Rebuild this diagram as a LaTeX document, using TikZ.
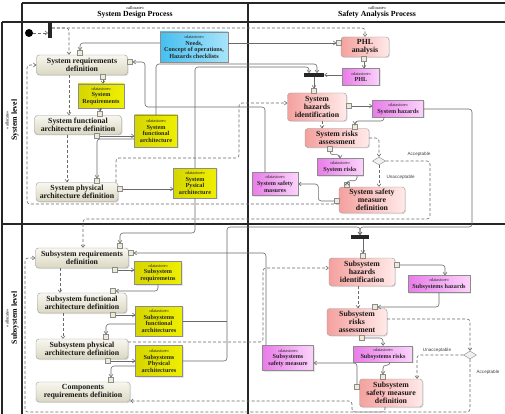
\documentclass[tikz,border=0pt]{standalone}
\usepackage{fontspec}
\setmainfont{Liberation Serif}
\setsansfont{Liberation Sans}
\usetikzlibrary{arrows.meta,shadows,shapes.geometric}
\definecolor{beigeL}{HTML}{F8F7EF}
\definecolor{beigeD}{HTML}{DAD8C2}
\definecolor{pinkD}{HTML}{F4A19E}
\definecolor{pinkL}{HTML}{FFEAE9}
\definecolor{yelD}{HTML}{D6D600}
\definecolor{yelL}{HTML}{EFEF00}
\definecolor{cyanD}{HTML}{45BFF0}
\definecolor{cyanL}{HTML}{A8E4FA}
\definecolor{magD}{HTML}{E97CE9}
\definecolor{magL}{HTML}{FBD3FB}
\definecolor{flowc}{HTML}{6A6A6A}
\definecolor{pinc}{HTML}{EDEBD6}
\newcommand{\dstore}{{\fontsize{4.4}{5}\selectfont\mdseries «datastore»}}
\newcommand{\alloc}{{\fontsize{4.4}{5}\selectfont\mdseries «allocate»}}

\begin{document}
\begin{tikzpicture}[x=1pt,y=-1pt,
  wh/.style 2 args={minimum width=#1pt,minimum height=#2pt},
  actbox/.style={draw=black!40,rounded corners=3pt,align=center,inner sep=0pt,text=black!90,
    font=\fontsize{7.8}{8.2}\selectfont\bfseries,
    drop shadow={opacity=0.25,shadow xshift=1pt,shadow yshift=-1pt}},
  design/.style={actbox,top color=beigeL,bottom color=beigeD},
  safety/.style={actbox,left color=pinkD,right color=pinkL},
  store/.style={draw=black!45,align=center,inner sep=0pt,text=black!85,
    font=\fontsize{6.2}{6.7}\selectfont\bfseries,
    drop shadow={opacity=0.2,shadow xshift=1pt,shadow yshift=-1pt}},
  ystore/.style={store,left color=yelD,right color=yelL},
  cstore/.style={store,left color=cyanD,right color=cyanL},
  mstore/.style={store,left color=magD,right color=magL},
  pinbox/.style={draw=black!45,fill=pinc,minimum size=5pt,inner sep=0pt},
  bar/.style={fill=black!85,inner sep=0pt},
  decision/.style={diamond,draw=black!45,fill=black!6,inner sep=0pt,minimum width=13pt,minimum height=8pt},
  flow/.style={draw=flowc,line width=0.6pt,rounded corners=3pt,-{Straight Barb[length=2.5pt,width=4pt]}},
  ctrl/.style={flow,dash pattern=on 3pt off 2pt},
  lane/.style={line width=1.2pt,black!85},
  guard/.style={font=\sffamily\fontsize{4.6}{5}\selectfont,text=black!75}]
\useasboundingbox (0,0) rectangle (505,414);
% frame and lanes:
\draw[lane] (22,3) -- (506,3);
\draw[lane] (22,3) -- (22,416);
\draw[lane] (2,22) -- (506,22);
\draw[lane] (2,22) -- (2,416);
\draw[lane] (2,224) -- (506,224);
\draw[lane] (248,3) -- (248,416);
\node (hdA) at (135,8) {\alloc};
\node[font=\fontsize{7.8}{8}\selectfont\bfseries] (hdAt) at (135,15) {System Design Process};
\node (hdB) at (377,8) {\alloc};
\node[font=\fontsize{7.8}{8}\selectfont\bfseries] (hdBt) at (377,15) {Safety Analysis Process};
\node[rotate=90] (lvA) at (7,120) {\alloc};
\node[rotate=90,font=\fontsize{7.8}{8}\selectfont\bfseries] (lvAt) at (15,120) {System level};
\node[rotate=90] (lvB) at (7,318) {\alloc};
\node[rotate=90,font=\fontsize{7.8}{8}\selectfont\bfseries] (lvBt) at (15,318) {Subsystem level};
% system level, design:
\node[circle,fill=black,minimum size=8pt,inner sep=0pt] (init) at (29,33) {};
\node[bar,wh={3.5}{16}] (fork1) at (50,30) {};
\node[design,wh={91}{20}] (sysreq) at (82,65) {System requirements\\definition};
\node[design,wh={87}{19}] (sysfunc) at (78,125) {System functional\\architecture definition};
\node[design,wh={82}{19}] (sysphys) at (77,192) {System physical\\architecture definition};
\node[cstore,wh={68}{30}] (needs) at (194,47) {\dstore\\Needs,\\Concept of operations,\\Hazards checklists};
\node[ystore,wh={46}{24}] (sysreqs) at (101,96) {\dstore\\System\\Requirements};
\node[ystore,wh={43}{32}] (sysfa) at (156,131) {\dstore\\System\\functional\\architecture};
\node[ystore,wh={43}{30}] (syspa) at (195,183) {\dstore\\System\\Pysical\\architecture};
% system level, safety:
\node[safety,wh={48}{20}] (phl) at (365,47) {PHL\\analysis};
\node[mstore,wh={37}{17}] (phlds) at (361,77) {\dstore\\PHL};
\node[bar,wh={20}{3.5}] (join1) at (314,75) {};
\node[safety,wh={59}{28}] (shi) at (317,107) {System\\hazards\\identification};
\node[mstore,wh={51}{17}] (syshz) at (398,109) {\dstore\\System hazards};
\node[safety,wh={64}{19}] (sra) at (337,138) {System risks\\assessment};
\node[mstore,wh={46}{17}] (sysrisk) at (340,167) {\dstore\\System risks};
\node[decision] (dec1) at (379,161) {};
\node[safety,wh={66}{26}] (ssmd) at (372,200) {System safety\\measure\\definition};
\node[mstore,wh={46}{23}] (syssm) at (275,184) {\dstore\\System safety\\masures};
% subsystem level, design:
\node[design,wh={93}{20}] (subreq) at (82,258) {Subsystem requirements\\definition};
\node[design,wh={89}{20}] (subfunc) at (82,303) {Subsystem functional\\architecture definition};
\node[design,wh={92}{20}] (subphys) at (82,349) {Subsystem physical\\architecture definition};
\node[design,wh={94}{20}] (comreq) at (83,392) {Components\\requirements definition};
\node[ystore,wh={47}{23}] (subreqs) at (158,273) {\dstore\\Subsystem\\requiremetns};
\node[ystore,wh={47}{30}] (subfa) at (159,321) {\dstore\\Subsystems\\functional\\architectures};
\node[ystore,wh={47}{31}] (subpa) at (159,361) {\dstore\\Subsystems\\Physical\\architectures};
% subsystem level, safety:
\node[bar,wh={18}{3.5}] (fork2) at (360,237) {};
\node[safety,wh={66}{28}] (subshi) at (362,272) {Subsystem\\hazards\\identification};
\node[mstore,wh={62}{17}] (subhz) at (439,284) {\dstore\\Subsystems hazards};
\node[safety,wh={60}{27}] (subsra) at (357,322) {Subsystem\\risks\\assessment};
\node[mstore,wh={59}{16}] (subrisk) at (383,354) {\dstore\\Subsystems risks};
\node[mstore,wh={51}{25}] (subsm) at (288,358) {\dstore\\Subsystems\\safety measure};
\node[decision] (dec2) at (470,355) {};
\node[safety,wh={63}{28}] (subssmd) at (391,393) {Subsystem\\safety measure\\definition};
% pins:
\node[pinbox] (pSRt) at (80,53) {};
\node[pinbox] (pSRr) at (130,62) {};
\node[pinbox] (pSRb) at (103,77) {};
\node[pinbox] (pSFt) at (100,114) {};
\node[pinbox] (pSFb) at (97,136) {};
\node[pinbox] (pSPt) at (97,181) {};
\node[pinbox] (pSPr) at (120,189) {};
\node[pinbox] (pPHLl) at (339,43) {};
\node[pinbox] (pPHLb) at (364,59) {};
\node[pinbox] (pSHIt) at (314,91) {};
\node[pinbox] (pSHIr) at (349,106) {};
\node[pinbox] (pSRAt) at (355,127) {};
\node[pinbox] (pSRAb) at (330,149) {};
\node[pinbox] (pSSMDt) at (347,185) {};
\node[pinbox] (pSSMDl) at (337,201) {};
\node[pinbox] (pSubRt) at (120,246) {};
\node[pinbox] (pSubRr) at (131,253) {};
\node[pinbox] (pSubRb) at (115,270) {};
\node[pinbox] (pSubFt) at (113,291) {};
\node[pinbox] (pSubFb) at (113,315) {};
\node[pinbox] (pSubPt) at (106,337) {};
\node[pinbox] (pSubPb) at (108,361) {};
\node[pinbox] (pComt) at (111,380) {};
\node[pinbox] (pSubHt) at (363,256) {};
\node[pinbox] (pSubHr) at (397,265) {};
\node[pinbox] (pSubSt) at (375,307) {};
\node[pinbox] (pSubSb) at (362,338) {};
\node[pinbox] (pSubMt) at (383,377) {};
\node[pinbox] (pSubMl) at (357,387) {};
% object flows, system level:
\draw[flow] ([yshift=4pt]needs.west) -| (pSRt.north);
\draw[flow] (needs.east |- pPHLl) -- (pPHLl.west);
\draw[flow] (pSRb.south) -- (pSRb.south |- sysreqs.north);
\draw[flow] (sysreqs.south -| pSFt) -- (pSFt.north);
\draw[flow] (pSFb.east) -- (sysfa.west |- pSFb);
\draw[flow] ([yshift=-8pt]sysfa.west) -| (pSPt.north);
\draw[flow] (pSPr.east) -- (syspa.west |- pSPr);
\draw[flow] (syspa.south) -- (syspa.south |- 0,233) -| (pSubRt.north);
\draw[flow] (pPHLb.south) -- (pPHLb.south |- phlds.north);
\draw[flow] (phlds.west |- join1) -- (join1.east);
\draw[flow] (sysfa.north) -- (sysfa.north |- 0,64) -| ([xshift=3pt]join1.north);
\draw[flow] (syspa.north) -- (syspa.north |- 0,67) -| ([xshift=-5pt]join1.north);
\draw[flow] (join1.south -| pSHIt) -- (pSHIt.north);
\draw[flow] (pSHIr.east) -- (syshz.west |- pSHIr);
\draw[flow] ([xshift=-14pt]syshz.south) |- (pSRAt |- 0,121) -- (pSRAt.north);
\draw[flow] (pSRAb.south) -- ++(0,3) -| (sysrisk.north);
\draw[flow] ([xshift=17pt]sysrisk.south) -- ++(0,5) -| (pSSMDt.north);
\draw[flow] (pSSMDl.west) -- ++(-16,0) |- (syssm.east);
\draw[flow] ([xshift=-10pt]syssm.north) |- (145,107) |- (pSRr.east);
\draw[flow] (syshz.east) -| (472,227) -| (fork2.north);
% object flows, subsystem level:
\draw[flow] (subpa.east) -| (227,227) -| (fork2.north);
\draw[flowc,line width=0.6pt] (subfa.east) -- (subfa.east -| 227,0);
\draw[flow] (pSubRb.east) -- (subreqs.west |- pSubRb);
\draw[flow] (subreqs.south) |- (pSubFt.east);
\draw[flow] (pSubFb.east) -- (subfa.west |- pSubFb);
\draw[flow] ([yshift=-3pt]subfa.west) -| (pSubPt.north);
\draw[flow] (pSubPb.east) -- (subpa.west |- pSubPb);
\draw[flow] ([yshift=-5pt]subpa.west) -| (pComt.north);
\draw[flow] ([xshift=-22pt]subsm.north) |- (pSubRr.east);
\draw[flow] (fork2.south -| pSubHt) -- (pSubHt.north);
\draw[flow] (pSubHr.east) -| ([xshift=6pt]subhz.north);
\draw[flow] (subhz.south) |- (pSubSt.east);
\draw[flow] (pSubSb.east) -| (subrisk.north);
\draw[flow] ([xshift=7pt]subrisk.south) -- ++(0,3) -| (pSubMt.north);
\draw[flow] (pSubMl.north) |- ([yshift=-5pt]subsm.east);
% control flows, system level:
\draw[ctrl] (init) -- (fork1.west |- init);
\draw[ctrl] (fork1.east |- 0,28) -| (phl.north);
\draw[ctrl] (fork1.east |- 0,28) -| ([xshift=-13pt]sysreq.north);
\draw[ctrl] ([xshift=-13pt]sysreq.south) -- ([xshift=-13pt]sysreq.south |- sysfunc.north);
\draw[ctrl] ([xshift=-11pt]sysfunc.south) -- ([xshift=-11pt]sysfunc.south |- sysphys.north);
\draw[ctrl] ([xshift=39pt]sysphys.north) |- (239,158) |- ([yshift=4pt]shi.west);
\draw[ctrl] ([xshift=5pt]shi.south) -- ([xshift=5pt]shi.south |- sra.north);
\draw[ctrl] (sra.east) -| (dec1.north);
\draw[ctrl] (dec1.south) -- (dec1.south |- ssmd.north);
\draw[ctrl] (dec1.east) -| (430,219) -| ([xshift=1pt]subreq.north);
\draw[ctrl] ([yshift=-4pt]ssmd.west) -| (27,65) -- (sysreq.west);
\node[guard] (acc1) at (419,154) {Acceptable};
\node[guard,anchor=west] (unacc1) at (383,177) {Unacceptable};
% control flows, subsystem level:
\draw[ctrl] ([xshift=-22pt]subreq.south) -- ([xshift=-22pt]subreq.south |- subfunc.north);
\draw[ctrl] ([xshift=-19pt]subfunc.south) -- ([xshift=-19pt]subfunc.south |- subphys.north);
\draw[ctrl] ([yshift=7pt]subphys.east) -| (263,268) -- ([yshift=4pt]subshi.west);
\draw[ctrl] ([xshift=-4pt]subshi.south) -- ([xshift=-4pt]subshi.south |- subsra.north);
\draw[ctrl] ([yshift=3pt]subsra.east) -| (dec2.north);
\draw[ctrl] (dec2.west) -| ([xshift=26pt]subssmd.north);
\draw[ctrl] (dec2.south) |- (352,412) |- ([yshift=-9pt]comreq.east);
\draw[ctrl] ([xshift=-6pt]subssmd.south) |- (25,412) |- (subreq.west);
\node[guard] (unacc2) at (437,350) {Unacceptable};
\node[guard] (acc2) at (488,372) {Acceptable};
\end{tikzpicture}
\end{document}
